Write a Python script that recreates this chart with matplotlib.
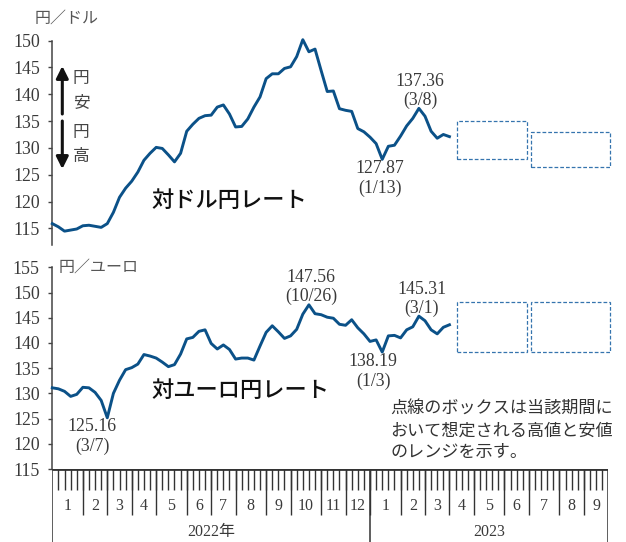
import numpy as np
import pandas as pd
import matplotlib
matplotlib.use('Agg')
import matplotlib.pyplot as plt
from matplotlib.patches import Rectangle

# weekly closes, Jan 2022 - end of Mar 2023
usd_jpy = [115.9, 115.3, 114.5, 114.7, 114.9, 115.5, 115.6, 115.4, 115.2, 115.9,
           118.0, 120.8, 122.5, 123.8, 125.5, 127.7, 129.0, 130.1, 129.9, 128.7,
           127.4, 129.0, 133.1, 134.4, 135.5, 136.0, 136.1, 137.6, 138.0, 136.3,
           133.9, 134.0, 135.4, 137.6, 139.5, 142.9, 143.8, 143.8, 144.8, 145.1,
           147.0, 150.15, 147.9, 148.4, 144.4, 140.5, 140.6, 137.3, 137.0, 136.8,
           133.6, 133.0, 132.0, 130.8, 127.87, 130.3, 130.5, 132.2, 134.1, 135.5,
           137.36, 135.9, 133.1, 131.8, 132.5, 132.1]
eur_jpy = [131.1, 130.9, 130.4, 129.4, 129.8, 131.2, 131.1, 130.2, 128.6, 125.16,
           130.0, 132.6, 134.7, 135.1, 135.8, 137.7, 137.4, 137.0, 136.2, 135.3,
           135.7, 137.8, 140.8, 141.1, 142.3, 142.6, 139.9, 138.8, 139.6, 138.7,
           136.8, 137.0, 137.0, 136.6, 139.4, 142.1, 143.4, 142.2, 140.9, 141.4,
           142.7, 145.7, 147.56, 145.8, 145.6, 145.1, 144.9, 143.7, 143.5, 144.6,
           143.0, 141.8, 140.3, 140.6, 138.19, 141.4, 141.5, 141.0, 142.6, 143.2,
           145.31, 144.4, 142.6, 141.8, 143.1, 143.6]

# highs / lows with their dates
usd_marks = [(150.15, '10/20'), (137.36, '3/8'), (127.87, '1/13')]
eur_marks = [(147.56, '10/26'), (145.31, '3/1'), (138.19, '1/3'), (125.16, '3/7')]
# label placement (pixels from the point, above/below)
usd_offs = [(1, 'up'), (1, 'up'), (-2, 'down')]
eur_offs = [(2, 'up'), (3, 'up'), (-9, 'down'), (-15, 'down')]

# expected ranges (low, high) for Apr-Jun and Jul-Sep 2023
usd_range = [(128.0, 135.0), (126.5, 133.0)]
eur_range = [(138.3, 148.2), (138.3, 148.2)]

note = ['点線のボックスは当該期間に', 'おいて想定される高値と安値', 'のレンジを示す。']

SERIF = ['Liberation Serif', 'Noto Sans CJK JP']
GOTHIC = ['Noto Sans CJK JP', 'DejaVu Sans']
LINE = '#0b5188'
BOX = '#3574ae'
TXT = '#3a3a3a'

W, H = 626, 542
fig = plt.figure(figsize=(W / 100, H / 100), dpi=100)

# week grid (Mondays) used as the x axis
weeks = pd.date_range('2022-01-03', '2023-09-25', freq='W-MON')
n_weeks = len(weeks)
month_start = [i for i in range(n_weeks) if i == 0 or weeks[i].month != weeks[i - 1].month]
month_end = month_start[1:] + [n_weeks]
year_split = int(np.argmax(weeks.year == 2023))
q_start = [int(np.argmax(weeks >= pd.Timestamp(d))) for d in ('2023-04-01', '2023-07-01')]
q_end = [q_start[1], n_weeks]

L, R = 52.3, 608.3
ax_usd = fig.add_axes([L / W, 1 - 245 / H, (R - L) / W, 204.5 / H])
ax_eur = fig.add_axes([L / W, 1 - 469 / H, (R - L) / W, 201.7 / H])
ax_x = fig.add_axes([L / W, 0, (R - L) / W, 73 / H])


def style(ax, lo, hi, ticks):
    ax.set_xlim(0, n_weeks)
    ax.set_ylim(lo, hi)
    for s in ('top', 'right', 'bottom'):
        ax.spines[s].set_visible(False)
    ax.spines['left'].set_color('#444444')
    ax.spines['left'].set_linewidth(1.1)
    ax.set_xticks([])
    ax.set_yticks(ticks)
    ax.tick_params(axis='y', direction='out', length=3, width=1, color='#444444',
                   pad=6, labelsize=12.8, labelcolor=TXT)
    for t in ax.get_yticklabels():
        t.set_family(SERIF)
    ax.patch.set_alpha(0)


def draw(ax, values, marks, offs, ranges):
    x = np.arange(len(values))
    ax.plot(x, values, color=LINE, lw=2.1, clip_on=False, zorder=3)
    for (v, d), (dx, side) in zip(marks, offs):
        i = values.index(v)
        dys = [27, 8] if side == 'up' else [-9, -29]
        for txt, dy in zip([f'{v:.2f}', f'({d})'], dys):
            ax.annotate(txt, (i, v), xytext=(dx, dy), textcoords='offset pixels',
                        ha='center', va='center', fontsize=12.8, family=SERIF, color=TXT)
    for k, (lo, hi) in enumerate(ranges):
        x0 = q_start[k] + (1.3 if k == 0 else 0.3)
        x1 = q_end[k] + (-0.3 if k == 0 else 0.3)
        ax.add_patch(Rectangle((x0, lo), x1 - x0, hi - lo, fill=False, ec=BOX,
                               lw=0.9, ls=(0, (3, 1.6)), clip_on=False))


style(ax_usd, 111.92, 150, range(115, 151, 5))
style(ax_eur, 115, 155, range(115, 156, 5))
draw(ax_usd, usd_jpy, usd_marks, usd_offs, usd_range)
draw(ax_eur, eur_jpy, eur_marks, eur_offs, eur_range)

# ruler-style time axis
ax_x.set_xlim(0, n_weeks)
ax_x.set_ylim(73, 0)
ax_x.axis('off')
ax_x.vlines(range(1, n_weeks), 0, 21, color='#333333', lw=1.0)
ax_x.vlines(month_start[1:], 0, 46, color='#333333', lw=1.0)
ax_x.vlines([0, year_split, n_weeks], 0, 73, color='#333333', lw=1.1)
ax_x.hlines(0, 0, n_weeks, color='#333333', lw=2.0)
for s, e in zip(month_start, month_end):
    ax_x.text((s + e) / 2, 37.5, str(weeks[s].month), ha='center', va='center',
              fontsize=11.5, family=SERIF, color=TXT)
ax_x.text(year_split / 2, 63, '2022年', ha='center', va='center',
          fontsize=11.5, family=SERIF, color=TXT)
ax_x.text((year_split + n_weeks) / 2, 63, '2023', ha='center', va='center',
          fontsize=11.5, family=SERIF, color=TXT)


def ftext(x, y, s, **kw):
    fig.text(x / W, 1 - y / H, s, **kw)


# unit labels and titles
ftext(35, 18, '円／ドル', fontsize=11.5, family=GOTHIC, color='#555555', va='center')
ftext(59, 267, '円／ユーロ', fontsize=11.5, family=GOTHIC, color='#555555', va='center')
ftext(151, 200, '対ドル円レート', fontsize=16, family=GOTHIC, weight='medium',
      color='#111111', va='center')
ftext(151, 390, '対ユーロ円レート', fontsize=16, family=GOTHIC, weight='medium',
      color='#111111', va='center')

# yen weaker / stronger arrows
for tail, tip in [((62.3, 114), (62.3, 66)), ((62.3, 121), (62.3, 169))]:
    fig.add_artist(plt.Annotation('', xy=(tip[0] / W, 1 - tip[1] / H),
                                  xytext=(tail[0] / W, 1 - tail[1] / H),
                                  xycoords='figure fraction',
                                  arrowprops=dict(arrowstyle='-|>', color='#111111',
                                                  lw=2.2, mutation_scale=18,
                                                  shrinkA=0, shrinkB=0)))
for ch, y in zip('円安円高', [79, 103, 133, 156]):
    ftext(81, y, ch, fontsize=12, family=GOTHIC, color='#444444', ha='center', va='center')

for k, line in enumerate(note):
    ftext(390, 409 + 21.5 * k, line, fontsize=12.3, family=GOTHIC, color='#333333', va='center')

fig.savefig('out.png', dpi=100)
